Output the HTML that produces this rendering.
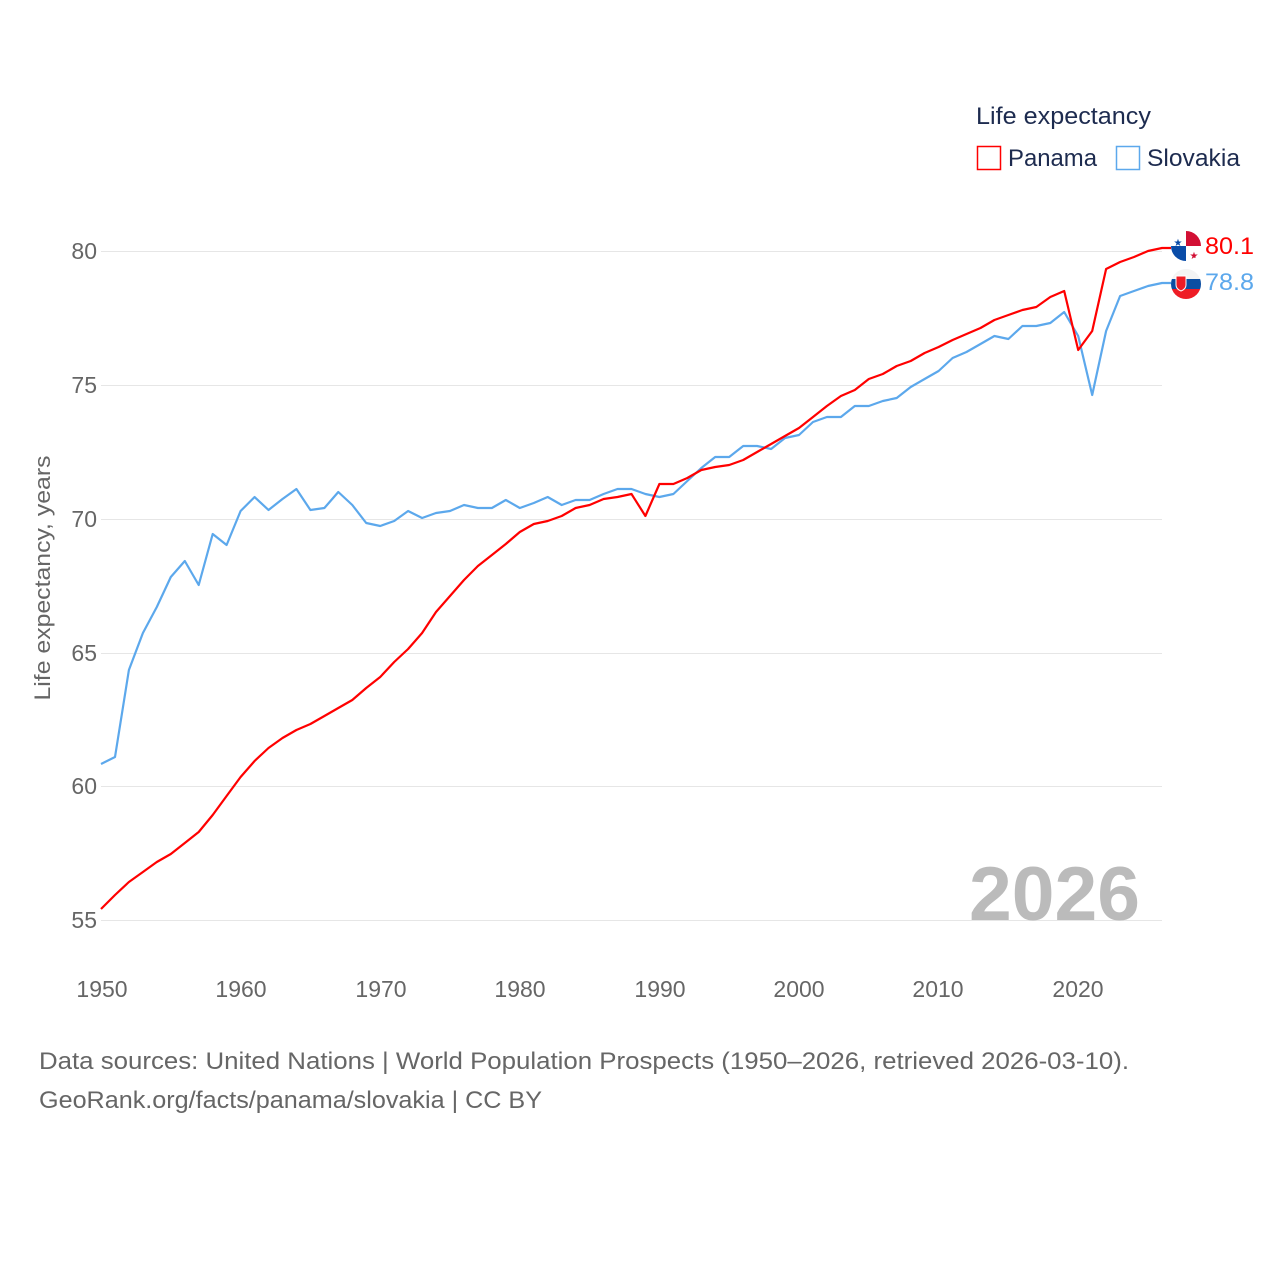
<!DOCTYPE html>
<html><head><meta charset="utf-8"><style>
body{margin:0;background:#fff;}
svg text{font-family:"Liberation Sans",sans-serif;}
</style></head><body>
<svg width="1280" height="1280" viewBox="0 0 1280 1280" xmlns="http://www.w3.org/2000/svg">
<g stroke="#e6e6e6" stroke-width="1">
<line x1="101" x2="1162" y1="251.5" y2="251.5"/>
<line x1="101" x2="1162" y1="385.5" y2="385.5"/>
<line x1="101" x2="1162" y1="519.5" y2="519.5"/>
<line x1="101" x2="1162" y1="653.5" y2="653.5"/>
<line x1="101" x2="1162" y1="786.5" y2="786.5"/>
<line x1="101" x2="1162" y1="920.5" y2="920.5"/>
</g>
<g fill="#666" font-size="23" text-anchor="end">
<text x="97" y="259">80</text><text x="97" y="393">75</text><text x="97" y="527">70</text>
<text x="97" y="661">65</text><text x="97" y="794">60</text><text x="97" y="928">55</text>
</g>
<g fill="#666" font-size="23" text-anchor="middle">
<text x="102" y="997">1950</text><text x="241" y="997">1960</text><text x="381" y="997">1970</text>
<text x="520" y="997">1980</text><text x="660" y="997">1990</text><text x="799" y="997">2000</text>
<text x="938" y="997">2010</text><text x="1078" y="997">2020</text>
</g>
<text transform="translate(50,578) rotate(-90)" fill="#666" font-size="22" text-anchor="middle" textLength="245" lengthAdjust="spacingAndGlyphs">Life expectancy, years</text>
<text x="969" y="920" fill="#bbb" font-size="76" font-weight="bold" textLength="171" lengthAdjust="spacingAndGlyphs">2026</text>
<text x="976" y="124" fill="#1d2b4f" font-size="24" textLength="175" lengthAdjust="spacingAndGlyphs">Life expectancy</text>
<rect x="977.5" y="146.5" width="23" height="23" fill="none" stroke="#f00" stroke-width="1.5"/>
<text x="1008" y="166" fill="#1d2b4f" font-size="24" textLength="89" lengthAdjust="spacingAndGlyphs">Panama</text>
<rect x="1116.5" y="146.5" width="23" height="23" fill="none" stroke="#5ca8ec" stroke-width="1.5"/>
<text x="1147" y="166" fill="#1d2b4f" font-size="24" textLength="93" lengthAdjust="spacingAndGlyphs">Slovakia</text>
<polyline fill="none" stroke="#5ca8ec" stroke-width="2.2" stroke-linejoin="round" id="sk" points=""/>
<polyline fill="none" stroke="#f00" stroke-width="2.2" stroke-linejoin="round" id="pa" points=""/>
<defs>
<clipPath id="c1"><circle cx="1186" cy="246" r="15"/></clipPath>
<clipPath id="c2"><circle cx="1186" cy="284" r="15"/></clipPath>
</defs>
<g clip-path="url(#c2)">
<rect x="1171" y="269" width="30" height="10" fill="#f4f4f4"/>
<rect x="1171" y="279" width="30" height="10" fill="#0b4ea2"/>
<rect x="1171" y="289" width="30" height="10" fill="#ee1c25"/>
<path d="M1176 276h10v9q0 4-5 6q-5-2-5-6z" fill="#ee1c25" stroke="#fff" stroke-width="1"/>
</g>
<g clip-path="url(#c1)">
<rect x="1171" y="231" width="30" height="30" fill="#fff"/>
<rect x="1186" y="231" width="15" height="15" fill="#d21034"/>
<rect x="1171" y="246" width="15" height="15" fill="#0a4ca8"/>
<text x="1178" y="246" fill="#0a4ca8" font-size="10" text-anchor="middle">★</text>
<text x="1194" y="259" fill="#d21034" font-size="10" text-anchor="middle">★</text>
</g>
<text x="1205" y="254" fill="#f00" font-size="24" textLength="49" lengthAdjust="spacingAndGlyphs">80.1</text>
<text x="1205" y="290" fill="#5ca8ec" font-size="24" textLength="49" lengthAdjust="spacingAndGlyphs">78.8</text>
<text x="39" y="1069" fill="#666" font-size="24" textLength="1090" lengthAdjust="spacingAndGlyphs">Data sources: United Nations | World Population Prospects (1950–2026, retrieved 2026-03-10).</text>
<text x="39" y="1108" fill="#666" font-size="24" textLength="503" lengthAdjust="spacingAndGlyphs">GeoRank.org/facts/panama/slovakia | CC BY</text>
<script>
var sk=[764,757,670,633,607,577,561,585,534,545,511,497,510,499,489,510,508,492,505,523,526,521,511,518,513,511,505,508,508,500,508,503,497,505,500,500,494,489,489,494,497,494,481,468,457,457,446,446,449,438,435,422,417,417,406,406,401,398,387,379,371,358,352,344,336,339,326,326,323,312,336,395,331,296,291,286,283];
var pa=[909,895,882,872,862,854,843,832,815,796,777,761,748,738,730,724,716,708,700,688,677,662,649,633,612,596,580,566,555,544,532,524,521,516,508,505,499,497,494,516,484,484,478,470,467,465,460,452,444,436,428,417,406,396,390,379,374,366,361,353,347,340,334,328,320,315,310,307,297,291,350,331,269,262,257,251,248];
function p(a){return a.map(function(y,i){return (101+i*13.96).toFixed(1)+","+y}).join(" ")+" 1171,"+a[a.length-1];}
document.getElementById("sk").setAttribute("points",p(sk));
document.getElementById("pa").setAttribute("points",p(pa));
</script>
</svg>
</body></html>
